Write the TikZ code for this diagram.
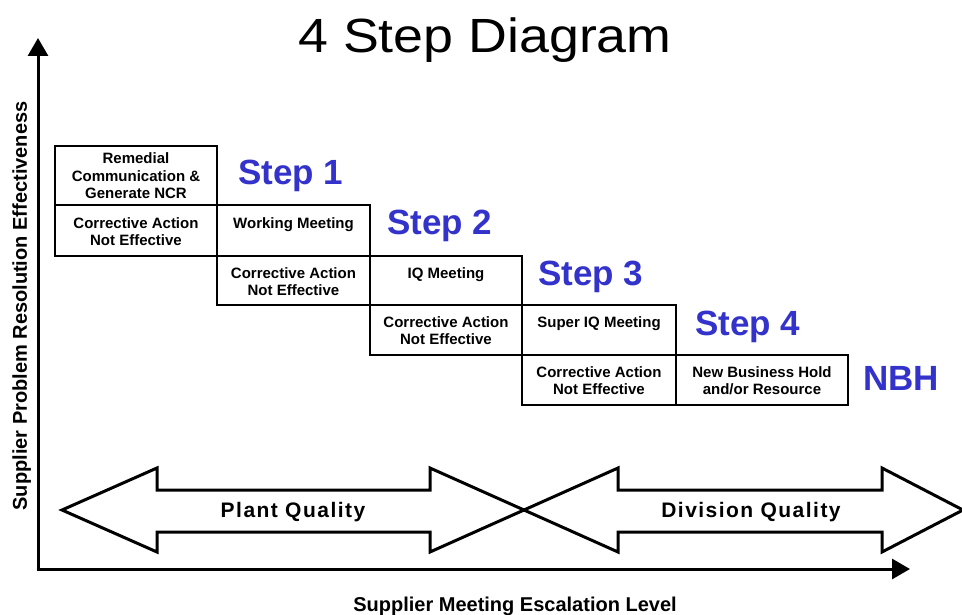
\documentclass[tikz,border=0pt]{standalone}
\usepackage{fontspec}
\setmainfont{Liberation Sans}
\newfontfamily\spacedfont{Liberation Sans}[LetterSpace=7]
\newfontfamily\titlefont{Liberation Sans}[FakeStretch=1.12]
\usetikzlibrary{arrows.meta}
\definecolor{stepblue}{RGB}{51,51,204}
\tikzset{
  cellbox/.style={draw=black, line width=2pt, inner sep=0pt, outer sep=0pt, anchor=north west},
  celltext/.style={inner sep=0pt, anchor=north, align=center, font=\bfseries\fontsize{15}{17.5}\selectfont},
  steplabel/.style={inner sep=0pt, anchor=base west, text=stepblue, font=\bfseries\fontsize{35}{40}\selectfont},
  axisline/.style={line width=3pt, -{Triangle[length=18pt,width=20pt]}},
  bigarrow/.style={draw=black, line width=3pt, fill=white, line join=miter},
  arrowtext/.style={inner sep=0pt, anchor=base, font=\spacedfont\bfseries\fontsize{21}{24}\selectfont},
  axislabel/.style={inner sep=0pt, anchor=base, font=\bfseries\fontsize{20}{24}\selectfont}
}
\begin{document}
\begin{tikzpicture}[x=1pt,y=-1pt]
\useasboundingbox[fill=white] (0,0) rectangle (962,615);

% title
\node[inner sep=0pt, anchor=base, font=\titlefont\fontsize{48}{56}\selectfont] (title) at (485,53) {4 Step Diagram};

% axes
\coordinate (origin) at (38,569);
\coordinate (ytip) at (38,38);
\coordinate (xtip) at (910,569);
\draw[axisline] ([yshift=-1.5pt]origin) -- (ytip);
\draw[axisline] ([xshift=-1.5pt]origin) -- (xtip);
\node[axislabel, rotate=90] (ylab) at (27,306) {Supplier Problem Resolution Effectiveness};
\node[axislabel] (xlab) at (515,611) {Supplier Meeting Escalation Level};

% boxes
\node[cellbox, minimum width=162pt, minimum height=59pt] (a1) at (55,146) {};
\node[cellbox, minimum width=162pt, minimum height=51pt] (a2) at (55,205) {};
\node[cellbox, minimum width=153pt, minimum height=51pt] (b1) at (217,205) {};
\node[cellbox, minimum width=153pt, minimum height=49pt] (b2) at (217,256) {};
\node[cellbox, minimum width=152pt, minimum height=49pt] (c1) at (370,256) {};
\node[cellbox, minimum width=152pt, minimum height=50pt] (c2) at (370,305) {};
\node[cellbox, minimum width=154pt, minimum height=50pt] (d1) at (522,305) {};
\node[cellbox, minimum width=154pt, minimum height=50pt] (d2) at (522,355) {};
\node[cellbox, minimum width=172pt, minimum height=50pt] (e1) at (676,355) {};

\node[celltext] (a1t) at ([yshift=-6.5pt]a1.north) {Remedial\\Communication \&\\Generate NCR};
\node[celltext] (a2t) at ([yshift=-12pt]a2.north) {Corrective Action\\Not Effective};
\node[celltext] (b1t) at ([yshift=-12pt]b1.north) {Working Meeting};
\node[celltext] (b2t) at ([yshift=-11pt]b2.north) {Corrective Action\\Not Effective};
\node[celltext] (c1t) at ([yshift=-11pt]c1.north) {IQ Meeting};
\node[celltext] (c2t) at ([yshift=-11pt]c2.north) {Corrective Action\\Not Effective};
\node[celltext] (d1t) at ([yshift=-11pt]d1.north) {Super IQ Meeting};
\node[celltext] (d2t) at ([yshift=-11pt]d2.north) {Corrective Action\\Not Effective};
\node[celltext] (e1t) at ([yshift=-11pt]e1.north) {New Business Hold\\and/or Resource};

% step labels
\node[steplabel] (s1) at (238,185) {Step 1};
\node[steplabel] (s2) at (387,235) {Step 2};
\node[steplabel] (s3) at (538,285) {Step 3};
\node[steplabel] (s4) at (695,335) {Step 4};
\node[steplabel] (nbh) at (863,390) {NBH};

% double arrows
\draw[bigarrow] (62,510) -- (157,468) -- (157,490) -- (430,490) -- (430,468) -- (524,510)
  -- (430,552) -- (430,532) -- (157,532) -- (157,552) -- cycle;
\draw[bigarrow] (524,510) -- (618,468) -- (618,490) -- (882,490) -- (882,468) -- (963,510)
  -- (882,552) -- (882,532) -- (618,532) -- (618,552) -- cycle;
\node[arrowtext] (pq) at (293,517) {Plant Quality};
\node[arrowtext] (dq) at (751,517) {Division Quality};
\end{tikzpicture}
\end{document}
